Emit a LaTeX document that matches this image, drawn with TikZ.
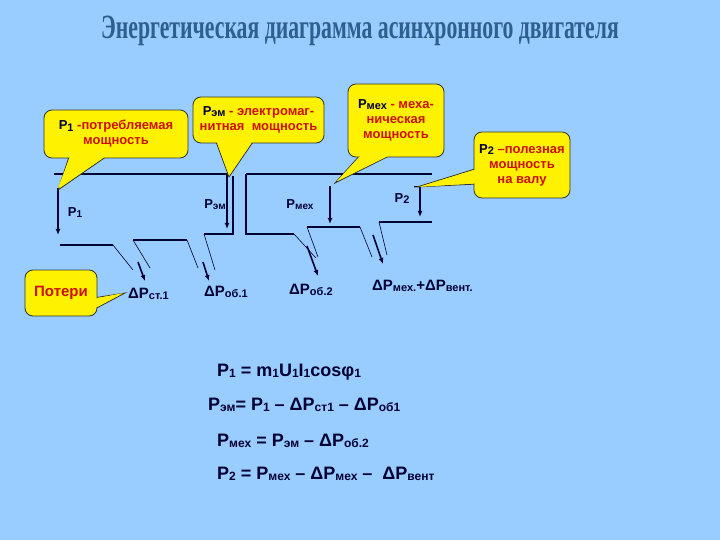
\documentclass[tikz,border=0pt]{standalone}
\usepackage{fontspec}
\usetikzlibrary{arrows.meta}
\setmainfont{Liberation Sans}
\newfontfamily\titlefont{Liberation Serif}
\definecolor{bg}{HTML}{99CCFF}
\definecolor{navy}{HTML}{000033}
\definecolor{cred}{HTML}{CC1100}
\definecolor{ttl}{HTML}{2E5F8F}
\newcommand{\sbs}[1]{\raisebox{-0.15ex}{\fontsize{10}{10}\selectfont #1}}
\newcommand{\sbl}[1]{\raisebox{-0.15ex}{\fontsize{11}{11}\selectfont #1}}
\newcommand{\sbe}[1]{\raisebox{-0.15ex}{\fontsize{12}{12}\selectfont #1}}
\begin{document}
\begin{tikzpicture}[x=1pt,y=-1pt,
  flow/.style={draw=navy,line width=1.6pt},
  thin/.style={draw=navy,line width=0.6pt},
  arr/.style={draw=navy,line width=1.6pt,-{Latex[length=6pt,width=5pt]}},
  call/.style={fill=yellow,draw=black!80,line width=0.8pt,rounded corners=8pt,inner sep=2pt,font=\fontsize{13}{15}\selectfont\bfseries,text=cred,align=center},
  lbl/.style={text=navy,font=\fontsize{13}{15}\selectfont\bfseries,inner sep=0pt},
  dl/.style={text=navy,font=\fontsize{15}{17}\selectfont\bfseries,inner sep=0pt,anchor=west},
  eq/.style={text=navy,font=\fontsize{18}{20}\selectfont\bfseries,inner sep=0pt,anchor=west}]
\fill[bg] (0,0) rectangle (720,540);
\useasboundingbox (0,0) rectangle (720,540);
% title
\node (title)[font=\titlefont\fontsize{34}{36}\selectfont\bfseries,text=ttl,xscale=0.64] at (360,31) {Энергетическая диаграмма асинхронного двигателя};
% flow lines
\coordinate (t1a) at (54,174); \coordinate (t1b) at (231,174);
\coordinate (t2a) at (246,174); \coordinate (t2b) at (432,174);
\draw[flow] (t1a) -- (t1b);
\draw[flow] (t2a) -- (t2b);
\draw[flow] (60,245) -- (113,245);
\draw[thin] (113,245) -- (133,270);
\draw[flow] (133,240) -- (187,240);
\draw[thin] (133,240) -- (150,268);
\draw[thin] (187,240) -- (198,268);
\draw[flow] (204,234) -- (233,234) -- (233,176);
\draw[thin] (204,234) -- (215,270);
\draw[flow] (246,174) -- (246,234) -- (294,234);
\draw[thin] (294,234) -- (316,258);
\draw[flow] (307,227) -- (360,227);
\draw[thin] (307,227) -- (318,257);
\draw[thin] (360,227) -- (372,257);
\draw[flow] (379,222) -- (432,222);
\draw[thin] (379,222) -- (387,255);
% arrows
\coordinate (a1s) at (58,188); \coordinate (a1e) at (58,235);
\draw[arr] (a1s) -- (a1e);
\coordinate (a2s) at (227,174); \coordinate (a2e) at (227,229);
\draw[arr] (a2s) -- (a2e);
\coordinate (a3s) at (330,186); \coordinate (a3e) at (330,224);
\draw[arr] (a3s) -- (a3e);
\coordinate (a4s) at (420,187); \coordinate (a4e) at (420,217);
\draw[arr] (a4s) -- (a4e);
\draw[navy,line width=1pt] (414,187) -- (426,187);
\draw[arr] (138,262) -- (145,281);
\draw[arr] (203,262) -- (209,281);
\draw[arr] (307,246) -- (318,276);
\draw[arr] (373,235) -- (383,264);
% labels
\node (lP1)[lbl] at (75,213) {P\sbs{1}};
\node (lPem)[lbl] at (215,205) {P\sbs{эм}};
\node (lPmex)[lbl] at (300,205) {P\sbs{мех}};
\node (lP2)[lbl] at (402,199) {P\sbl{2}};
\node (dPst)[dl] at (128,294) {ΔP\sbl{ст.1}};
\node (dPob1)[dl] at (204,292) {ΔP\sbl{об.1}};
\node (dPob2)[dl] at (289,290) {ΔP\sbl{об.2}};
\node (dPmex)[dl] at (372,286) {ΔP\sbl{мех.}+ΔP\sbl{вент.}};
% callouts
\fill[yellow,draw=black!80,line width=0.8pt] (70,154) -- (58,190) -- (110,154);
\node (c1)[call,minimum width=144pt,minimum height=48pt] at (116,134) {\textcolor{navy}{P\sbl{1}} -потребляемая\\мощность};
\fill[yellow] (71,154) -- (58,188) -- (109,154) -- cycle;
\fill[yellow,draw=black!80,line width=0.8pt] (215,139) -- (229,177) -- (255,139);
\node (c2)[call,minimum width=131pt,minimum height=46pt] at (258.5,120) {\textcolor{navy}{P\sbl{эм}} - электромаг-\\нитная\ \ мощность};
\fill[yellow] (216,139) -- (229,175) -- (254,139) -- cycle;
\fill[yellow,draw=black!80,line width=0.8pt] (362,153) -- (335,183) -- (395,153);
\node (c3)[call,minimum width=96pt,minimum height=73pt] at (396,120.5) {\textcolor{navy}{P\sbl{мех}} - меха-\\ническая\\мощность};
\fill[yellow] (363,153) -- (337,181) -- (394,153) -- cycle;
\fill[yellow,draw=black!80,line width=0.8pt] (478,168) -- (417,187) -- (478,184);
\node (c4)[call,minimum width=96pt,minimum height=66pt] at (522,165) {\textcolor{navy}{P\sbl{2}} --полезная\\мощность\\на валу};
\fill[yellow] (478,169) -- (419,187) -- (478,183) -- cycle;
\fill[yellow,draw=black!80,line width=0.8pt] (93,298) -- (125,293) -- (93,310);
\node (c5)[call,minimum width=72pt,minimum height=46pt,font=\fontsize{15}{17}\selectfont\bfseries] at (61,293) {Потери};
\fill[yellow] (93,299) -- (123,293) -- (93,309) -- cycle;
% equations
\node (e1)[eq] at (217,372) {P\sbe{1} = m\sbe{1}U\sbe{1}I\sbe{1}cosφ\sbe{1}};
\node (e2)[eq] at (208,405) {P\sbe{эм}= P\sbe{1} – ΔP\sbe{ст1} – ΔP\sbe{об1}};
\node (e3)[eq] at (217,441) {P\sbe{мех} = P\sbe{эм} – ΔP\sbe{об.2}};
\node (e4)[eq] at (217,474) {P\sbe{2} = P\sbe{мех} – ΔP\sbe{мех} –\ \ ΔP\sbe{вент}};
\end{tikzpicture}
\end{document}
